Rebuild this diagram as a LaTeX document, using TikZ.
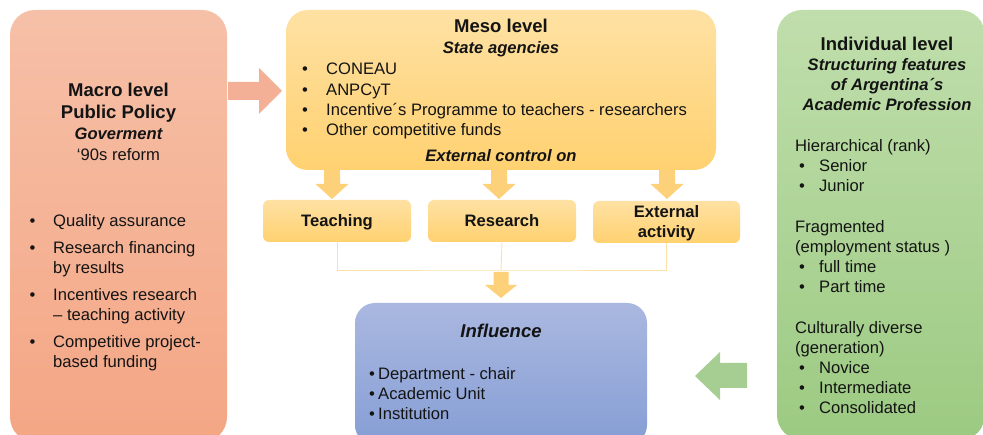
\documentclass[tikz,border=0pt]{standalone}
\usepackage{fontspec}
\setmainfont{Liberation Sans}
\definecolor{macroTop}{RGB}{246,192,168}
\definecolor{macroBot}{RGB}{244,166,132}
\definecolor{mesoTop}{RGB}{254,225,163}
\definecolor{mesoBot}{RGB}{255,209,112}
\definecolor{arrowYel}{RGB}{253,208,122}
\definecolor{lineYel}{RGB}{253,224,165}
\definecolor{arrowSal}{RGB}{243,176,150}
\definecolor{inflTop}{RGB}{170,184,224}
\definecolor{inflBot}{RGB}{134,158,213}
\definecolor{indTop}{RGB}{192,222,172}
\definecolor{indBot}{RGB}{156,202,130}
\definecolor{arrowGrn}{RGB}{166,206,147}
\definecolor{ink}{RGB}{20,20,20}
\newcommand\bodysize{\fontsize{16.6}{20}\selectfont}
\newcommand\headsize{\fontsize{18.5}{21.3}\selectfont\bfseries}
% bullet item with hanging indent; #1 = width of the bullet column
\newcommand\hitem[2]{\par\hangindent=#1\hangafter=1\noindent\makebox[#1][l]{•}#2}
\begin{document}
\begin{tikzpicture}[x=1pt,y=-1pt,
  panel/.style={inner sep=0pt, draw=none},
  lbl/.style={inner sep=0pt, text=ink, font=\bodysize},
  tab/.style={panel, rounded corners=6pt, top color=mesoTop, bottom color=mesoBot,
              minimum height=42pt, minimum width=148pt}]
\useasboundingbox (0,0) rectangle (983,435);
\clip (0,0) rectangle (983,435);

% ---- panels ----
\node[panel, rounded corners=25pt, top color=macroTop, bottom color=macroBot,
      minimum width=217pt, minimum height=432pt] (macro) at (118.5,226) {};
\node[panel, rounded corners=22pt, top color=mesoTop, bottom color=mesoBot,
      minimum width=430pt, minimum height=160pt] (meso) at (501,90) {};
\node[panel, rounded corners=25pt, top color=indTop, bottom color=indBot,
      minimum width=208pt, minimum height=430pt] (indiv) at (881,225) {};
\node[panel, rounded corners=20pt, top color=inflTop, bottom color=inflBot,
      minimum width=292pt, minimum height=142pt] (infl) at (501,374) {};

\node[tab] (teach) at (337,221) {};
\node[tab] (res) at (502,221) {};
\node[tab, minimum width=147pt] (ext) at (666.5,222) {};

% ---- thin connectors joining the three activities ----
\coordinate (join) at (501,270);
\draw[lineYel, line width=0.9pt] (teach.south) |- (join) -| (ext.south);
\draw[lineYel, line width=0.9pt] (res.south) -- (join);

% ---- block arrows ----
\fill[arrowSal] (228,82) -- (259,82) -- (259,68) -- (282,91) -- (259,114)
  -- (259,100) -- (228,100) -- cycle;
\foreach \cx in {332,499,667}{
  \fill[arrowYel] (\cx-8,170) -- (\cx+8,170) -- (\cx+8,184) -- (\cx+16.5,184)
    -- (\cx,199) -- (\cx-16.5,184) -- (\cx-8,184) -- cycle;
}
\fill[arrowYel] (493.5,272) -- (508.5,272) -- (508.5,285) -- (517,285) -- (501,298)
  -- (485,285) -- (493.5,285) -- cycle;
\fill[arrowGrn] (747,363) -- (720,363) -- (720,352) -- (695,376) -- (720,400)
  -- (720,388) -- (747,388) -- cycle;

% ---- macro level ----
\node[lbl, anchor=base] (macrohead) at (118.5,97) {\parbox[t]{210pt}{\centering
  \headsize Macro level\\Public Policy\\
  \fontsize{16.6}{21.3}\selectfont\itshape Goverment\\
  \mdseries\upshape ‘90s reform\par}};
\node[lbl, anchor=base west] (macrolist) at (29.5,227) {\parbox[t]{190pt}{\bodysize
  \raggedright\parskip=7pt
  \hitem{23.5pt}{Quality assurance}
  \hitem{23.5pt}{Research financing\newline by results}
  \hitem{23.5pt}{Incentives research\newline – teaching activity}
  \hitem{23.5pt}{Competitive project-\newline based funding}\par}};

% ---- meso level ----
\node[lbl, anchor=base] (mesohead) at (501,33) {\parbox[t]{300pt}{\centering
  \headsize Meso level\\
  \fontsize{16.6}{21}\selectfont\itshape State agencies\par}};
\node[lbl, anchor=base west] (mesolist) at (302,75) {\parbox[t]{400pt}{\bodysize
  \baselineskip=20.2pt\raggedright
  \hitem{24pt}{CONEAU}
  \hitem{24pt}{ANPCyT}
  \hitem{24pt}{Incentive´s Programme to teachers - researchers}
  \hitem{24pt}{Other competitive funds}\par}};
\node[lbl, anchor=base, font=\bodysize\bfseries\itshape] (mesoctl) at (501,162)
  {External control on};

% ---- activity labels ----
\node[lbl, anchor=base, font=\bodysize\bfseries] (teachlbl) at (337,227) {Teaching};
\node[lbl, anchor=base, font=\bodysize\bfseries] (reslbl) at (502,227) {Research};
\node[lbl, anchor=base] (extlbl) at (666.5,217.5) {\parbox[t]{140pt}{\centering
  \bodysize\bfseries External\\activity\par}};

% ---- influence ----
\node[lbl, anchor=base, font=\fontsize{18.5}{21}\selectfont\bfseries\itshape]
  (inflhead) at (501,338) {Influence};
\node[lbl, anchor=base west] (infllist) at (369,380) {\parbox[t]{260pt}{\bodysize
  \raggedright
  \hitem{9pt}{Department - chair}
  \hitem{9pt}{Academic Unit}
  \hitem{9pt}{Institution}\par}};

% ---- individual level ----
\node[lbl, anchor=base] (indhead) at (887,51) {\parbox[t]{200pt}{\centering
  \headsize Individual level\\
  \fontsize{16.6}{20}\selectfont\itshape Structuring features\\
  of Argentina´s\\Academic Profession\par}};
\newcommand\gitem[1]{\par\hangindent=24pt\hangafter=1\noindent
  \makebox[24pt][l]{\hspace*{4pt}•}#1}
\node[lbl, anchor=base west] (indlist) at (795,152) {\parbox[t]{185pt}{\bodysize
  \raggedright\baselineskip=20pt
  \noindent Hierarchical (rank)
  \gitem{Senior}
  \gitem{Junior}\par\vspace{21pt}
  \noindent Fragmented\newline (employment status )
  \gitem{full time}
  \gitem{Part time}\par\vspace{21pt}
  \noindent Culturally diverse\newline (generation)
  \gitem{Novice}
  \gitem{Intermediate}
  \gitem{Consolidated}\par}};
\end{tikzpicture}
\end{document}
